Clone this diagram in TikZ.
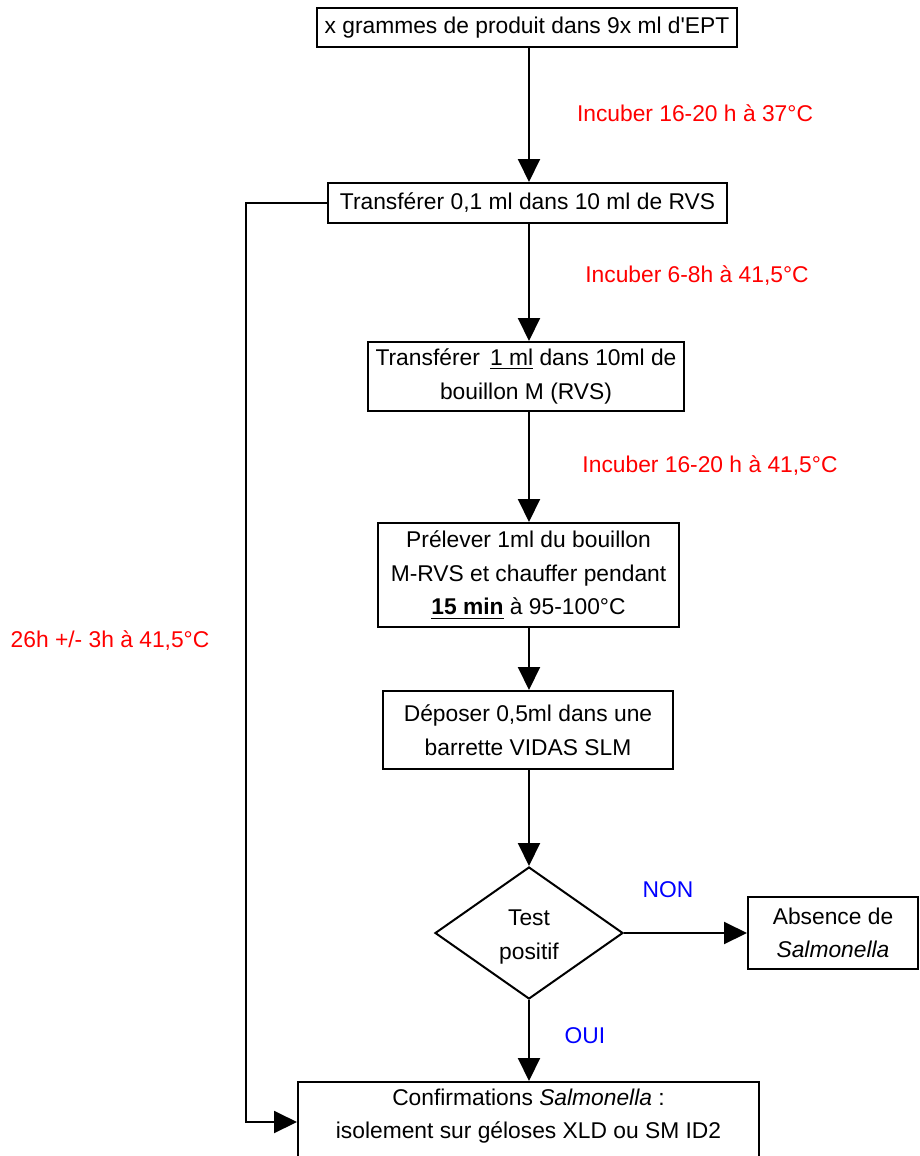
\documentclass[tikz,border=0pt]{standalone}
\usepackage{fontspec}
\setmainfont{Liberation Sans}
\usetikzlibrary{shapes.geometric,arrows.meta}
\begin{document}
\begin{tikzpicture}[x=0.5pt,y=-0.5pt,
  every node/.style={font=\fontsize{11.4}{16.8}\selectfont},
  box/.style={draw,line width=1pt,inner sep=0pt,align=center},
  dia/.style={draw,line width=1pt,shape=diamond,inner sep=0pt,align=center},
  arr/.style={line width=1pt,-{Triangle[width=11pt,length=11.5pt]}},
  red lbl/.style={text=red},
  blue lbl/.style={text=blue}]
\clip (0,0) rectangle (920,1156);
\fill[white] (0,0) rectangle (920,1156);
\node[box,minimum width=210pt,minimum height=19.5pt] (b1) at (527,28) {x grammes de produit dans 9x ml d\textquotesingle EPT};
\node[box,minimum width=199.5pt,minimum height=20pt] (b2) at (527.5,203) {Transférer 0,1 ml dans 10 ml de RVS};
\node[box,minimum width=158pt,minimum height=34.5pt] (b3) at (526,376.5) {Transférer\hspace{0.45em}\underline{1 ml} dans 10ml de\\bouillon M (RVS)};
\node[box,minimum width=150.5pt,minimum height=52pt] (b4) at (528.5,575) {Prélever 1ml du bouillon\\M-RVS et chauffer pendant\\\textbf{\underline{15 min}} à 95-100°C};
\node[box,minimum width=145pt,minimum height=39pt] (b5) at (528,730) {Déposer 0,5ml dans une\\barrette VIDAS SLM};
\node[dia,minimum width=94pt,minimum height=66pt] (d) at (529,933) {};
\node[align=center] (dt) at (529,937) {Test\\positif};
\node[box,minimum width=85pt,minimum height=36pt] (abs) at (833,933) {Absence de\\\textit{Salmonella}};
\node[box,minimum width=230.5pt,minimum height=44pt] (b7) at (528.5,1126) {};
\node[align=center] (b7t) at (528.5,1116) {Confirmations \textit{Salmonella} :\\isolement sur géloses XLD ou SM ID2};
\coordinate (ax) at (529,0);
\coordinate (lc) at (246,1122);
\draw[arr] (b1.south -| ax) -- (b2.north -| ax);
\draw[arr] (b2.south -| ax) -- (b3.north -| ax);
\draw[arr] (b3.south -| ax) -- (b4.north -| ax);
\draw[arr] (b4.south -| ax) -- (b5.north -| ax);
\draw[arr] (b5.south -| ax) -- (d.north);
\draw[arr] (d.east) -- (abs.west);
\draw[arr] (d.south) -- (b7.north -| ax);
\draw[arr] (b2.west) -| (lc) -- (b7.west |- lc);
\node[red lbl] (l1) at (695,113) {Incuber 16-20 h à 37°C};
\node[red lbl] (l2) at (697,276) {Incuber 6-8h à 41,5°C};
\node[red lbl] (l3) at (710,466) {Incuber 16-20 h à 41,5°C};
\node[red lbl] (l4) at (110,641) {26h +/- 3h à 41,5°C};
\node[blue lbl] (non) at (668,890) {NON};
\node[blue lbl] (oui) at (585,1036) {OUI};
\end{tikzpicture}
\end{document}
